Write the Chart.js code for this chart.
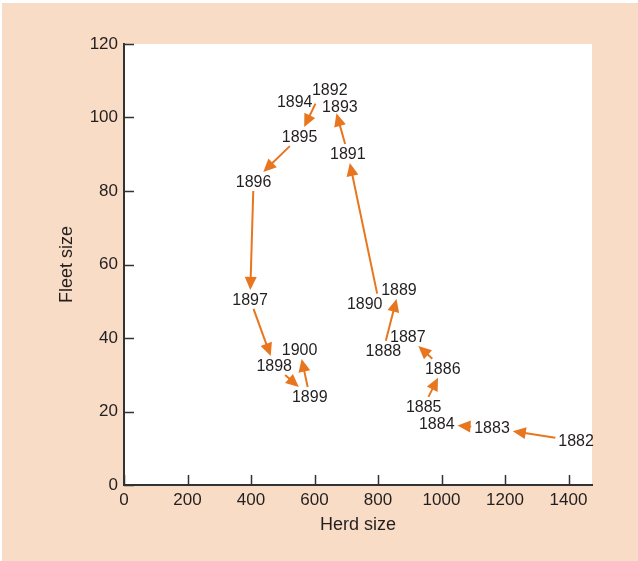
<!DOCTYPE html>
<html>
<head>
<meta charset="utf-8">
<script src="https://cdn.jsdelivr.net/npm/chart.js@4/dist/chart.umd.min.js"></script>
<style>html,body{margin:0;padding:0;background:#fff;}canvas{display:block;}</style>
</head>
<body>
<canvas id="c" width="638" height="561"></canvas>
<script>
// ---- data ----
const years     = [1882, 1883, 1884, 1885, 1886, 1887, 1888, 1889, 1890, 1891, 1892, 1893, 1894, 1895, 1896, 1897, 1898, 1899, 1900];
const herdSize  = [1424, 1159, 985, 944, 1004, 894, 817, 866, 799, 705, 648, 680, 610, 553, 408, 397, 473, 585, 553];
const fleetSize = [12.0, 15.5, 16.6, 21.4, 31.8, 40.4, 36.7, 53.2, 51.4, 90.2, 107.6, 102.9, 105.0, 94.8, 82.6, 50.5, 32.5, 24.1, 36.9];
const xTickValues = [0, 200, 400, 600, 800, 1000, 1200, 1400];
const yTickValues = [0, 20, 40, 60, 80, 100, 120];

// ---- style ----
const PEACH = '#F9DCC5';
const ORANGE = '#E8761F';
const INK = '#231F20';
const FONT = '"Liberation Sans", Arial, Helvetica, sans-serif';
const labelShift = {1890: [-13, 7], 1894: [-23, 2]}; // label displaced from its point (px)

const bgPlugin = {
  id: 'bg',
  beforeDraw(chart) {
    const {ctx, chartArea: a, width, height} = chart;
    ctx.save();
    ctx.fillStyle = '#ffffff';
    ctx.fillRect(0, 0, width, height);
    ctx.fillStyle = PEACH;
    ctx.fillRect(2, 3, width - 2, height - 3);
    ctx.fillStyle = '#ffffff';
    ctx.fillRect(a.left, a.top, a.right - a.left, a.bottom - a.top);
    ctx.restore();
  }
};

function slab(p, dx, dy, b) {
  let tmin = -Infinity, tmax = Infinity;
  const ax = [[p.px, dx, b.x1, b.x2], [p.py, dy, b.y1, b.y2]];
  for (const [o, d, lo, hi] of ax) {
    if (Math.abs(d) < 1e-9) {
      if (o < lo || o > hi) return null;
    } else {
      let t1 = (lo - o) / d, t2 = (hi - o) / d;
      if (t1 > t2) [t1, t2] = [t2, t1];
      tmin = Math.max(tmin, t1); tmax = Math.min(tmax, t2);
    }
  }
  if (tmin > tmax) return null;
  return {enter: tmin, exit: tmax};
}
function inside(p, b) { return p.px > b.x1 && p.px < b.x2 && p.py > b.y1 && p.py < b.y2; }

const arrowPlugin = {
  id: 'arrows',
  afterDatasetsDraw(chart) {
    const {ctx} = chart;
    const xs = chart.scales.x, ys = chart.scales.y;
    const pts = years.map((yr, i) => ({px: xs.getPixelForValue(herdSize[i]), py: ys.getPixelForValue(fleetSize[i])}));
    ctx.save();
    ctx.font = '16px ' + FONT;
    const H = 13, M = 3, GAP = 5, HEAD = 13, HW = 6;
    const boxes = years.map((yr, i) => {
      const s = labelShift[yr] || [0, 0];
      const cx = pts[i].px + s[0], cy = pts[i].py + s[1];
      const w = ctx.measureText(String(yr)).width;
      return {cx, cy, w};
    });
    const box = (b, m) => ({x1: b.cx - b.w / 2 - m, x2: b.cx + b.w / 2 + m, y1: b.cy - H / 2 - m, y2: b.cy + H / 2 + m});
    ctx.strokeStyle = ORANGE; ctx.fillStyle = ORANGE; ctx.lineWidth = 2;
    for (let i = 0; i < pts.length - 1; i++) {
      const a = pts[i], b = pts[i + 1];
      const dx = b.px - a.px, dy = b.py - a.py, len = Math.hypot(dx, dy);
      const own = box(boxes[i], M);
      let t0 = GAP / len;
      if (inside(a, own)) { const r = slab(a, dx, dy, own); t0 = r.exit; }
      let t1 = 1 - GAP / len;
      for (let j = 0; j < pts.length; j++) {
        if (j === i) continue;
        const bb = box(boxes[j], j === i + 1 ? M : 0);
        if (inside(a, bb)) continue;
        const r = slab(a, dx, dy, bb);
        if (r && r.enter > t0 && r.enter < t1) t1 = r.enter;
      }
      const L = (t1 - t0) * len;
      if (L < 12) continue;
      const ux = dx / len, uy = dy / len;
      const sx = a.px + dx * t0, sy = a.py + dy * t0;
      const ex = a.px + dx * t1, ey = a.py + dy * t1;
      const bx = ex - ux * HEAD, by = ey - uy * HEAD;
      if (L > HEAD) {
        ctx.beginPath(); ctx.moveTo(sx, sy); ctx.lineTo(bx + ux, by + uy); ctx.stroke();
      }
      ctx.beginPath();
      ctx.moveTo(ex, ey);
      ctx.lineTo(bx - uy * HW, by + ux * HW);
      ctx.lineTo(bx + uy * HW, by - ux * HW);
      ctx.closePath(); ctx.fill();
    }
    ctx.fillStyle = INK;
    ctx.textAlign = 'center'; ctx.textBaseline = 'middle';
    years.forEach((yr, i) => ctx.fillText(String(yr), boxes[i].cx, boxes[i].cy + 1));
    ctx.restore();
  }
};

const tickPlugin = {
  id: 'innerTicks',
  afterDraw(chart) {
    const {ctx, chartArea: a} = chart;
    const xs = chart.scales.x, ys = chart.scales.y;
    ctx.save();
    ctx.strokeStyle = '#333333'; ctx.lineWidth = 1.5;
    ctx.beginPath();
    xTickValues.forEach(v => { const p = Math.round(xs.getPixelForValue(v)) + 0.5; ctx.moveTo(p, a.bottom); ctx.lineTo(p, a.bottom - 10); });
    yTickValues.forEach(v => { const p = Math.round(ys.getPixelForValue(v)) + 0.5; ctx.moveTo(a.left, p); ctx.lineTo(a.left + 10, p); });
    ctx.stroke();
    ctx.restore();
  }
};

new Chart(document.getElementById('c'), {
  type: 'scatter',
  data: {
    datasets: [{
      label: 'Fleet vs herd',
      data: years.map((yr, i) => ({x: herdSize[i], y: fleetSize[i]})),
      pointRadius: 0,
      showLine: false
    }]
  },
  options: {
    responsive: false,
    animation: false,
    events: [],
    layout: {padding: {top: 44, right: 46, bottom: 0, left: 0}},
    plugins: {legend: {display: false}, tooltip: {enabled: false}},
    scales: {
      x: {
        type: 'linear', min: 0, max: 1474,
        afterBuildTicks: s => { s.ticks = xTickValues.map(v => ({value: v})); },
        afterFit: s => { s.height = 76; },
        grid: {drawOnChartArea: false, drawTicks: false},
        border: {display: true, color: '#333333', width: 2},
        ticks: {color: INK, font: {family: FONT, size: 17}, padding: 5, maxRotation: 0, autoSkip: false, callback: v => String(v)},
        title: {display: true, text: 'Herd size', color: INK, font: {family: FONT, size: 18}, padding: {top: 0, bottom: 25}}
      },
      y: {
        type: 'linear', min: 0, max: 120,
        afterBuildTicks: s => { s.ticks = yTickValues.map(v => ({value: v})); },
        afterFit: s => { s.width = 124; },
        grid: {drawOnChartArea: false, drawTicks: false},
        border: {display: true, color: '#333333', width: 2},
        ticks: {color: INK, font: {family: FONT, size: 17}, padding: 6, autoSkip: false, callback: v => String(v)},
        title: {display: true, text: 'Fleet size', color: INK, font: {family: FONT, size: 18}, padding: {top: 56, bottom: 0}}
      }
    }
  },
  plugins: [bgPlugin, arrowPlugin, tickPlugin]
});
</script>
</body>
</html>
